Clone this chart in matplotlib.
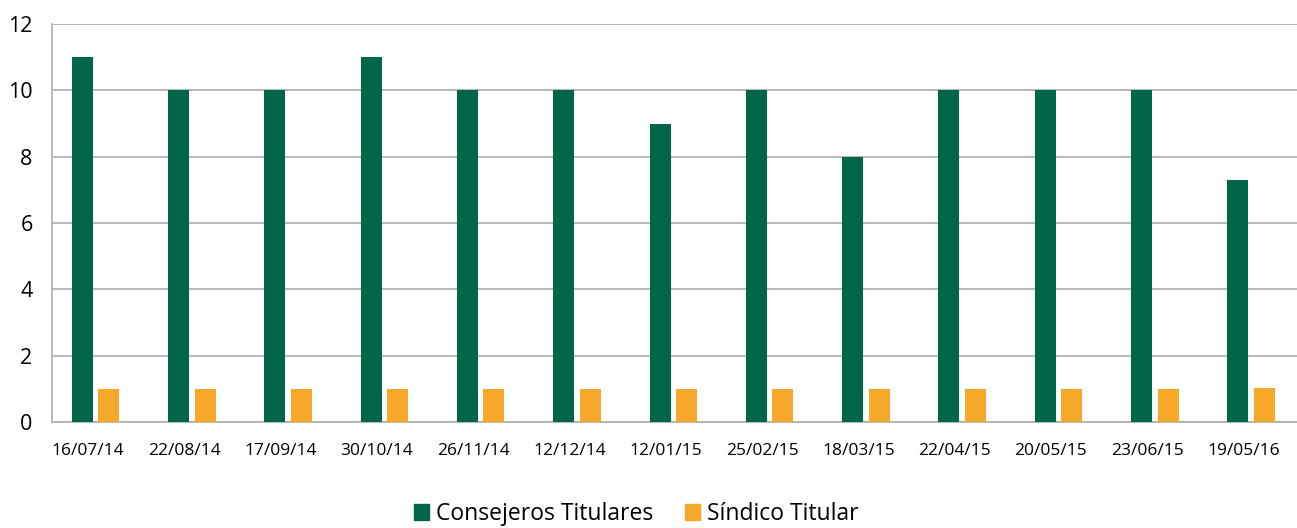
import matplotlib
matplotlib.use("Agg")
import matplotlib.pyplot as plt
from matplotlib.patches import Patch
import numpy as np

categories = ["16/07/14", "22/08/14", "17/09/14", "30/10/14", "26/11/14", "12/12/14",
              "12/01/15", "25/02/15", "18/03/15", "22/04/15", "20/05/15", "23/06/15", "19/05/16"]
consejeros = [11, 10, 10, 11, 10, 10, 9, 10, 8, 10, 10, 10, 7.3]
sindico = [1, 1, 1, 1, 1, 1, 1, 1, 1, 1, 1, 1, 1.03]
series_names = ["Consejeros Titulares", "Síndico Titular"]
colors = ["#00664A", "#F6A82A"]

plt.rcParams['font.family'] = ['Open Sans', 'DejaVu Sans']

fig = plt.figure(figsize=(12.97, 5.28), dpi=100)
W, H = 1297, 528
ax = fig.add_axes([52 / W, (H - 422) / H, (1297 - 52) / W, (422 - 24) / H])

x = np.arange(len(categories))
off = 0.1376
bw = 0.218
ax.bar(x - off, consejeros, width=bw, color=colors[0], zorder=3)
ax.bar(x + off, sindico, width=bw, color=colors[1], zorder=3)

ax.set_xlim(-0.452, 12.477)
ax.set_ylim(0, 12)
ax.set_yticks(range(0, 13, 2))
ax.set_xticks(x - 0.078)
ax.set_xticklabels(categories, fontsize=12.5)
ax.tick_params(axis='y', labelsize=15.5, length=0, pad=14)
ax.tick_params(axis='x', length=0, pad=15)
ax.grid(axis='y', color='#b3b3b3', linewidth=1.3, zorder=0)
for s in ['top', 'right']:
    ax.spines[s].set_visible(False)
for s in ['left', 'bottom']:
    ax.spines[s].set_color('#b3b3b3')
    ax.spines[s].set_linewidth(1.3)

handles = [Patch(color=c) for c in colors]
fig.legend(handles, series_names, loc='center', bbox_to_anchor=(636 / W, 1 - 514 / H),
           ncol=2, frameon=False, fontsize=16.5, handlelength=0.65, handleheight=0.65,
           handletextpad=0.3, columnspacing=1.4)

fig.savefig("out.png", dpi=100)
